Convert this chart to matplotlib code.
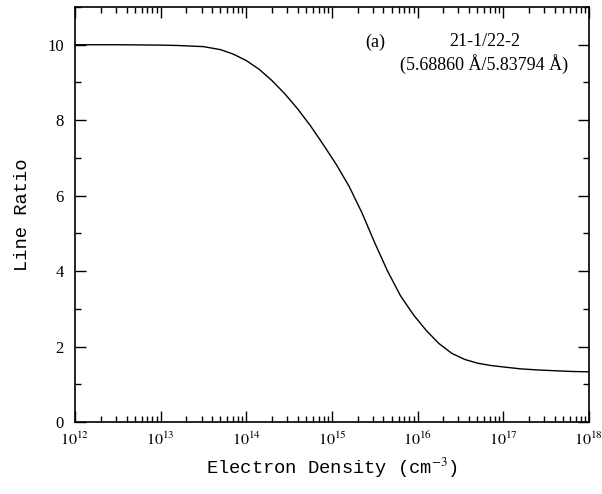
import matplotlib
matplotlib.use("Agg")
import matplotlib.pyplot as plt
from matplotlib.ticker import FixedLocator, MultipleLocator, NullFormatter

# log10 of electron density (cm^-3) and line ratio
log_density = [12.0, 12.5, 13.0, 13.2, 13.5, 13.7, 13.85, 14.0, 14.15, 14.3,
               14.45, 14.6, 14.75, 14.9, 15.05, 15.2, 15.35, 15.5, 15.65,
               15.8, 15.95, 16.1, 16.25, 16.4, 16.55, 16.7, 16.85, 17.0,
               17.2, 17.4, 17.6, 17.8, 18.0]
ratio = [10.00, 10.00, 9.99, 9.98, 9.95, 9.87, 9.75, 9.58, 9.35, 9.05,
         8.70, 8.30, 7.85, 7.35, 6.83, 6.25, 5.55, 4.75, 4.00,
         3.35, 2.85, 2.43, 2.08, 1.82, 1.66, 1.56, 1.50, 1.46,
         1.41, 1.38, 1.36, 1.34, 1.33]
decades = [12, 13, 14, 15, 16, 17, 18]
density = [10 ** v for v in log_density]

plt.rcParams['mathtext.fontset'] = 'stix'
plt.rcParams['font.family'] = 'Liberation Serif'

fig = plt.figure(figsize=(6.02, 4.94), dpi=100)
ax = fig.add_axes([0.1246, 0.1457, 0.8535, 0.8401])
ax.plot(density, ratio, color='black', lw=1.0)

ax.set_xscale('log')
ax.set_xlim(10.0 ** decades[0], 10.0 ** decades[-1])
ax.set_ylim(0, 11)
ax.set_xticks([10.0 ** d for d in decades])
ax.set_xticklabels([r'$10^{%d}$' % d for d in decades])
ax.xaxis.set_minor_locator(FixedLocator([m * 10.0 ** d for d in decades[:-1] for m in range(2, 10)]))
ax.xaxis.set_minor_formatter(NullFormatter())
ax.yaxis.set_major_locator(MultipleLocator(2))
ax.yaxis.set_minor_locator(MultipleLocator(1))

ax.tick_params(which='both', direction='in', top=True, right=True, labelsize=11.5, width=1.0)
ax.tick_params(which='major', length=8)
ax.tick_params(axis='x', which='major', pad=7)
ax.tick_params(axis='y', which='major', pad=8, labelsize=12)
ax.tick_params(which='minor', length=4)
for s in ax.spines.values():
    s.set_linewidth(1.2)

ax.set_xlabel(r'Electron Density (cm$^{-3}$)', family='Liberation Mono', fontsize=13.5, labelpad=5)
ax.set_ylabel('Line Ratio', family='Liberation Mono', fontsize=13.5, labelpad=12)

ax.text(0.565, 0.916, '(a)', transform=ax.transAxes, fontsize=13, va='center')
ax.text(0.797, 0.916, '21-1/22-2', transform=ax.transAxes, fontsize=13, ha='center', va='center')
ax.text(0.797, 0.863, '(5.68860 Å/5.83794 Å)', transform=ax.transAxes, fontsize=13, ha='center', va='center')

fig.savefig('out.png', dpi=100)
